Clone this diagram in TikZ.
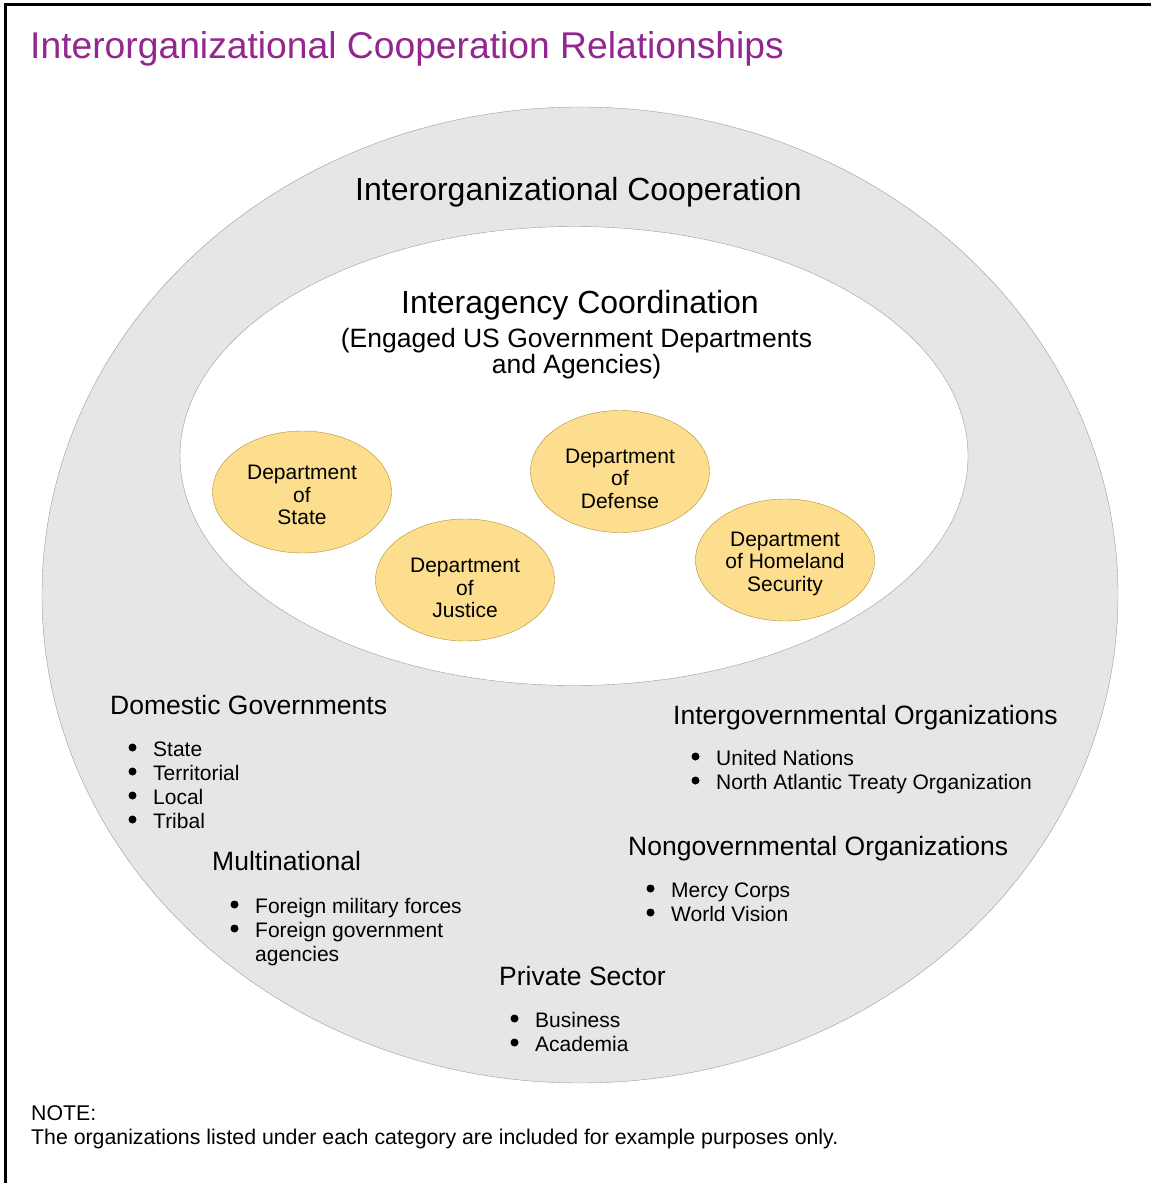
\documentclass[tikz,border=0pt]{standalone}
\usepackage{fontspec}
\setmainfont{Liberation Sans}
\usetikzlibrary{shapes,positioning}

\definecolor{titlepurple}{RGB}{147,39,143}
\definecolor{outergray}{RGB}{230,230,232}
\definecolor{linegray}{RGB}{155,155,155}
\definecolor{deptyellow}{RGB}{252,222,142}
\definecolor{deptline}{RGB}{176,146,50}

\newcommand{\itemlist}[1]{\begin{tabular}[t]{@{}l@{}}#1\end{tabular}}

\begin{document}
\begin{tikzpicture}[x=1pt,y=-1pt,
	dept/.style={ellipse, draw=deptline, thin, fill=deptyellow, minimum width=179pt, minimum height=122pt, inner sep=0pt},
	depttext/.style={align=center, inner sep=0pt, font=\fontsize{21}{22.5}\selectfont},
	heading/.style={anchor=base west, inner sep=0pt, font=\fontsize{26.5}{30}\selectfont},
	items/.style={anchor=base west, inner sep=0pt, font=\fontsize{21}{24}\selectfont}]

	\useasboundingbox (0,0) rectangle (1151,1183);
	
%marco
	\draw[black, line width=3pt] (1151,4) -- (5.5,4) -- (5.5,1183);
	\node[anchor=base west, inner sep=0pt, text=titlepurple, font=\fontsize{37.25}{40}\selectfont] (title) at (30,58) {Interorganizational Cooperation Relationships};

%elipses grandes
	\node[ellipse, draw=linegray, fill=outergray, minimum width=1076pt, minimum height=976pt, inner sep=0pt] (outer) at (580,595) {};
	\node[ellipse, draw=linegray, fill=white, minimum width=788pt, minimum height=459pt, inner sep=0pt] (inner) at (574,456) {};
	\node[anchor=base, inner sep=0pt, font=\fontsize{32}{36}\selectfont] (coop) at (578.5,200.5) {Interorganizational Cooperation};
	\node[anchor=base, inner sep=0pt, font=\fontsize{32}{36}\selectfont] (coord) at (580,313.5) {Interagency Coordination};
	\node[anchor=base, inner sep=0pt, align=center, font=\fontsize{26.5}{26}\selectfont] (engaged) at (576.5,373.5) {(Engaged US Government Departments\\and Agencies)};

%departamentos
	\node[dept, label={[depttext, yshift=-3pt]center:Department\\of\\State}] (state) at (302,492) {};
	\node[dept, label={[depttext, yshift=-8pt]center:Department\\of\\Justice}] (justice) at (465,580) {};
	\node[dept, label={[depttext, yshift=-7pt]center:Department\\of\\Defense}] (defense) at (620,471.5) {};
	\node[dept, label={[depttext, yshift=-3.5pt]center:Department\\of Homeland\\Security}] (homeland) at (785,560) {};

%categorias
	\node[heading] (domestic) at (110,714.5) {Domestic Governments};
	\node[items] (domlist) at (153,756.5) {\itemlist{State\\ Territorial\\ Local\\ Tribal}};
	\node[heading] (intergov) at (673,724.5) {Intergovernmental Organizations};
	\node[items] (igolist) at (716,765.5) {\itemlist{United Nations\\ North Atlantic Treaty Organization}};
	\node[heading] (multi) at (212,870.5) {Multinational};
	\node[items] (multilist) at (255,913.5) {\itemlist{Foreign military forces\\ Foreign government\\ agencies}};
	\node[heading] (nongov) at (628,855.5) {Nongovernmental Organizations};
	\node[items] (ngolist) at (671,897.5) {\itemlist{Mercy Corps\\ World Vision}};
	\node[heading] (private) at (499,985.5) {Private Sector};
	\node[items] (privlist) at (535,1027.5) {\itemlist{Business\\ Academia}};

	%vinetas
	\foreach \lst/\n in {domlist/3, igolist/1, multilist/1, ngolist/1, privlist/1}
		\foreach \i in {0,...,\n}
			\fill[black] ([xshift=-20.5pt, yshift={9pt-24pt*\i}]\lst.base west) circle (4pt);

%nota
	\node[anchor=base west, inner sep=0pt, align=left, font=\fontsize{21.3}{24}\selectfont] (note) at (31,1144) {NOTE:\\The organizations listed under each category are included for example purposes only.};
\end{tikzpicture}
\end{document}
